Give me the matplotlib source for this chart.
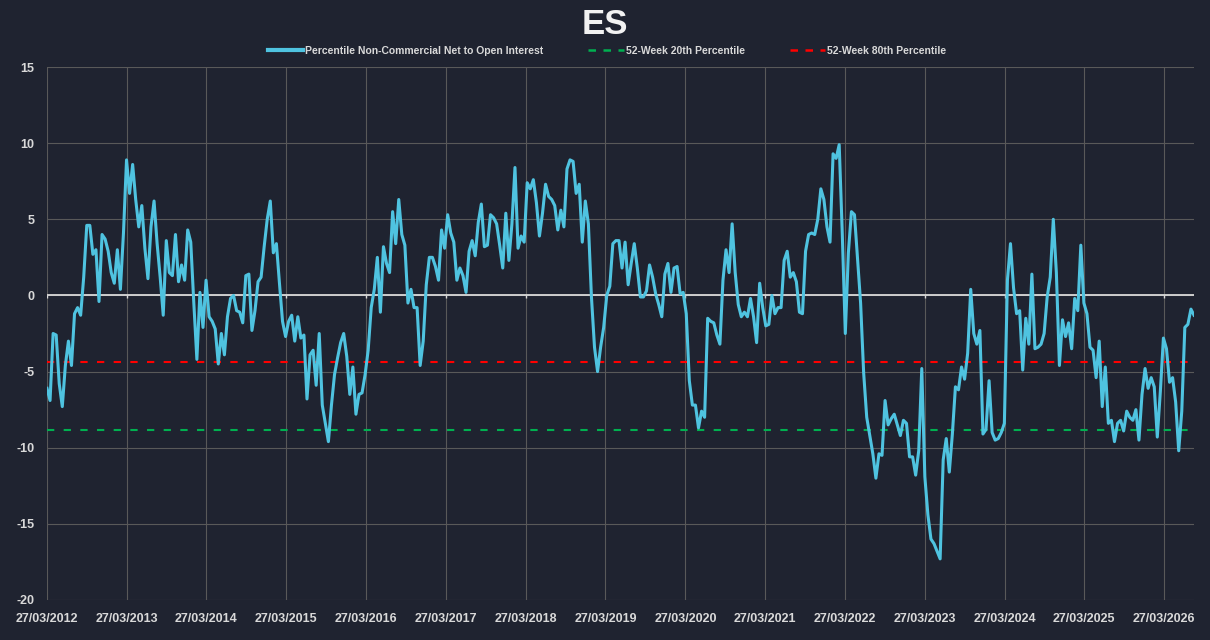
import matplotlib
matplotlib.use('Agg')
import matplotlib.pyplot as plt
import matplotlib.dates as mdates
from matplotlib.lines import Line2D
import pandas as pd

plt.rcParams['axes.unicode_minus'] = False

# biweekly readings, first one on 27/03/2012
start = '2012-03-27'
pct_net_oi = [
    -6.1, -6.9, -2.5, -2.6, -5.8, -7.3, -4.6, -3.0, -4.6, -1.2, -0.8, -1.3, 1.2, 4.6, 4.6, 2.7,
    3.0, -0.4, 4.0, 3.7, 2.9, 1.5, 0.8, 3.0, 0.4, 4.1, 8.9, 6.7, 8.6, 6.3, 4.5, 5.9,
    3.1, 1.1, 4.5, 6.2, 3.4, 1.2, -1.3, 3.6, 1.5, 1.3, 4.0, 0.9, 2.0, 1.0, 4.3, 3.5,
    -0.5, -4.2, 0.2, -2.1, 1.0, -1.4, -1.7, -2.2, -4.5, -2.5, -3.9, -1.4, -0.2, 0.0, -1.0, -1.1,
    -1.8, 1.3, 1.4, -2.3, -1.0, 0.9, 1.2, 3.2, 5.0, 6.2, 2.8, 3.4, 0.8, -1.7, -2.7, -1.7,
    -1.3, -3.0, -1.4, -2.8, -2.6, -6.8, -3.9, -3.6, -5.9, -2.5, -7.2, -8.4, -9.6, -7.2, -5.2, -4.1,
    -3.1, -2.5, -4.0, -6.5, -4.7, -7.8, -6.5, -6.4, -5.2, -3.6, -0.8, 0.4, 2.5, -1.1, 3.2, 2.1,
    1.5, 5.5, 3.4, 6.3, 4.0, 3.3, -0.5, 0.4, -0.8, -0.8, -4.6, -3.0, 0.7, 2.5, 2.5, 1.9,
    1.0, 4.3, 3.1, 5.3, 4.1, 3.5, 1.0, 1.8, 1.3, 0.2, 2.9, 3.6, 2.6, 4.8, 6.0, 3.2,
    3.3, 5.3, 5.1, 4.7, 3.3, 1.8, 5.4, 2.3, 4.7, 8.4, 3.1, 3.9, 3.5, 7.4, 7.0, 7.6,
    6.1, 3.9, 5.4, 7.3, 6.5, 6.3, 5.9, 4.3, 5.6, 4.5, 8.3, 8.9, 8.8, 6.7, 7.3, 3.5,
    6.2, 4.7, -0.1, -3.4, -5.0, -3.4, -2.1, 0.0, 0.6, 3.4, 3.6, 3.6, 1.8, 3.5, 0.7, 2.1,
    3.4, 1.8, -0.1, -0.1, 0.3, 2.0, 1.2, 0.1, -0.6, -1.4, 1.4, 2.1, 0.2, 1.8, 1.9, 0.1,
    0.2, -1.2, -5.6, -7.2, -7.2, -8.7, -7.6, -8.0, -1.5, -1.7, -1.8, -2.6, -3.2, 1.0, 3.0, 1.5,
    4.7, 1.5, -0.6, -1.4, -1.1, -1.4, -0.2, -1.4, -3.1, 0.8, -0.8, -2.0, -1.9, 0.0, -1.2, -0.8,
    -0.8, 2.3, 2.9, 1.2, 1.5, 0.9, -1.1, -1.2, 2.9, 4.0, 4.1, 4.0, 5.0, 7.0, 6.3, 4.5,
    3.5, 9.3, 9.0, 9.9, 4.1, -2.5, 2.8, 5.5, 5.3, 2.4, -0.5, -5.1, -8.0, -9.2, -10.4, -12.0,
    -10.4, -10.5, -6.9, -8.5, -8.1, -7.8, -8.5, -9.2, -8.2, -8.4, -10.6, -10.6, -11.8, -10.2, -4.8, -11.9,
    -14.4, -16.0, -16.3, -16.8, -17.3, -10.8, -9.4, -11.6, -9.1, -6.0, -6.2, -4.7, -5.5, -3.8, 0.4, -2.5,
    -3.2, -2.3, -9.1, -8.8, -5.6, -9.0, -9.5, -9.4, -9.0, -8.4, 1.0, 3.4, 0.5, -1.2, -1.0, -4.9,
    -1.5, -3.2, 1.4, -3.5, -3.4, -3.2, -2.5, -0.1, 1.2, 5.0, 1.5, -4.6, -1.6, -2.7, -1.8, -3.5,
    -0.2, -1.0, 3.3, -0.5, -1.2, -3.4, -3.6, -5.4, -3.0, -7.3, -4.7, -8.4, -8.2, -9.6, -8.4, -8.2,
    -8.9, -7.6, -8.0, -8.2, -7.5, -9.5, -6.5, -4.8, -6.1, -5.4, -6.0, -9.3, -6.3, -2.8, -3.5, -5.7,
    -5.4, -7.0, -10.2, -7.6, -2.1, -1.9, -0.9, -1.3,
]
pct_20 = -8.85
pct_80 = -4.35
tick_years = list(range(2012, 2027))
y_ticks = [-20, -15, -10, -5, 0, 5, 10, 15]

bg = '#1f2330'
txt = '#d9d9d9'
dates = pd.date_range(start, periods=len(pct_net_oi), freq='14D')
tick_dates = pd.to_datetime([f'{y}-03-27' for y in tick_years])

fig = plt.figure(figsize=(12.1, 6.4), dpi=100, facecolor=bg)
ax = fig.add_axes([47 / 1210, 40 / 640, 1147 / 1210, 533 / 640])
ax.set_facecolor(bg)

# thresholds + zero line
ax.axhline(0, color=txt, lw=1.3, zorder=2)
ax.vlines(tick_dates, -0.18, 0, color=txt, lw=1, zorder=2)
dash = (0, (3.5, 4.5))
ax.axhline(pct_20, color='#00b050', lw=1.5, ls=dash, zorder=3)
ax.axhline(pct_80, color='#ff0000', lw=1.5, ls=dash, zorder=3)

ax.plot(dates, pct_net_oi, color='#4fc3e0', lw=2.2, zorder=4, solid_joinstyle='round')

# axes styling
ax.set_xlim(dates[0], dates[-1])
ax.set_ylim(-20, 15)
ax.set_xticks(tick_dates)
ax.xaxis.set_major_formatter(mdates.DateFormatter('%d/%m/%Y'))
ax.set_yticks(y_ticks)
ax.grid(True, color='#595959', lw=0.8, zorder=0)
ax.set_axisbelow(True)
for s in ax.spines.values():
    s.set_visible(False)
ax.tick_params(axis='both', length=0, colors=txt)
ax.tick_params(axis='x', pad=9)
ax.tick_params(axis='y', pad=9)
for lab in ax.get_xticklabels() + ax.get_yticklabels():
    lab.set_fontfamily(['Liberation Sans', 'DejaVu Sans'])
    lab.set_fontweight('bold')
    lab.set_fontsize(9)

# title + legend
fig.text(0.5, 1 - 25 / 640, 'ES', ha='center', va='center', color='#f2f2f2',
         fontsize=25, fontweight='bold', family=['Liberation Sans', 'DejaVu Sans'])
handles = [
    Line2D([], [], color='#4fc3e0', lw=3),
    Line2D([], [], color='#00b050', lw=1.8, ls=(0, (3, 3))),
    Line2D([], [], color='#ff0000', lw=1.8, ls=(0, (3, 3))),
]
labels = ['Percentile Non-Commercial Net to Open Interest',
          '52-Week 20th Percentile', '52-Week 80th Percentile']
leg = fig.legend(handles, labels, loc='center', bbox_to_anchor=(607 / 1210, 1 - 51 / 640),
                 ncol=3, frameon=False, handlelength=3.4, handletextpad=0.2,
                 columnspacing=4.3,
                 prop={'family': ['Liberation Sans', 'DejaVu Sans'],
                       'weight': 'bold', 'size': 7.5})
for t in leg.get_texts():
    t.set_color(txt)

fig.savefig('out.png', dpi=100, facecolor=bg)
